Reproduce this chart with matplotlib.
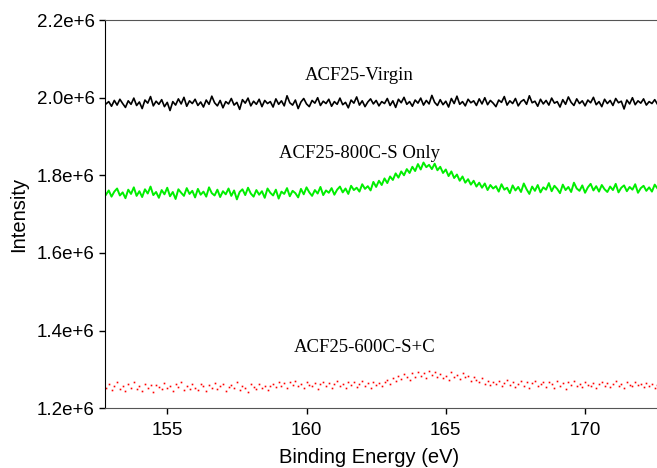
import matplotlib
matplotlib.use("Agg")
import matplotlib.pyplot as plt
import numpy as np

# binding energy grid (eV)
energy = np.round(np.arange(152.8, 172.65, 0.1), 1)

# intensities in thousands of counts
virgin = [1984, 1990, 1978, 1993, 1981, 1996, 1985, 1975, 1992, 1983, 1999, 1980, 1989, 1972, 1994, 1986, 2003, 1979, 1991, 1983,
          1995, 1977, 1988, 1967, 1990, 1981, 1997, 1984, 2001, 1978, 1992, 1985, 1996, 1980, 1989, 1976, 1994, 1983, 2004, 1987,
          1979, 1993, 1974, 1990, 1984, 1998, 1981, 1988, 1970, 1995, 1986, 1999, 1979, 1991, 1983, 1996, 1977, 1993, 1985, 1990,
          1976, 1997, 1983, 1992, 1979, 2005, 1987, 1981, 1994, 1972, 1989, 1998, 1984, 1977, 1993, 1986, 2000, 1980, 1991, 1985,
          1996, 1978, 1990, 1983, 1999, 1982, 1988, 1974, 1994, 1986, 2002, 1981, 1992, 1977, 1989, 1997, 1984, 1993, 1979, 1990,
          1985, 1998, 1980, 1992, 1975, 1996, 1987, 2001, 1983, 1990, 1978, 1994, 1986, 1999, 1981, 1993, 1984, 2006, 1988, 1980,
          1995, 1982, 1991, 1976, 1998, 1985, 2004, 1983, 1990, 1979, 1996, 1987, 1992, 1980, 1997, 1984, 2000, 1982, 1993, 1986,
          1977, 1994, 1988, 2003, 1981, 1992, 1985, 1998, 1979, 1990, 1995, 1983, 2005, 1987, 1991, 1978, 1996, 1984, 1993, 1981,
          1999, 1986, 1990, 1976, 1995, 1983, 2002, 1988, 1980, 1997, 1985, 1992, 1979, 1994, 1987, 2001, 1982, 1990, 1977, 1996,
          1985, 1993, 1980, 1998, 1987, 1991, 1971, 1994, 1984, 2000, 1982, 1992, 1986, 1997, 1981, 1990, 1985, 1995, 1983]

s_only = [1750, 1761, 1745, 1758, 1766, 1748, 1756, 1741, 1763, 1752, 1769, 1747, 1759, 1744, 1764, 1753, 1771, 1749, 1757, 1742,
          1762, 1751, 1768, 1746, 1757, 1739, 1764, 1755, 1747, 1767, 1752, 1760, 1743, 1765, 1750, 1758, 1745, 1769, 1754, 1748,
          1763, 1744, 1759, 1751, 1766, 1747, 1761, 1738, 1757, 1764, 1749, 1768, 1753, 1745, 1762, 1750, 1759, 1742, 1766, 1755,
          1748, 1763, 1740, 1758, 1752, 1767, 1746, 1760, 1754, 1743, 1765, 1751, 1769, 1756, 1747, 1762, 1753, 1770, 1749, 1761,
          1755, 1767, 1750, 1763, 1771, 1756, 1766, 1752, 1773, 1762, 1768, 1758, 1777, 1765, 1772, 1761, 1783, 1770, 1786, 1775,
          1792, 1780, 1797, 1788, 1805, 1794, 1810, 1800, 1816, 1806, 1822, 1811, 1829, 1815, 1833, 1821, 1827, 1816, 1830, 1813,
          1822, 1806, 1815, 1798, 1810, 1793, 1802, 1786, 1797, 1781, 1790, 1776, 1786, 1771, 1781, 1768, 1779, 1762, 1775, 1766,
          1772, 1758, 1777, 1763, 1768, 1754, 1774, 1761, 1770, 1757, 1779, 1764, 1752, 1771, 1760, 1775, 1756, 1769, 1763, 1780,
          1759, 1773, 1765, 1754, 1776, 1762, 1770, 1757, 1781, 1766, 1760, 1774, 1755, 1769, 1778, 1761, 1772, 1758, 1775, 1764,
          1757, 1771, 1762, 1778, 1756, 1768, 1774, 1759, 1770, 1763, 1777, 1755, 1767, 1773, 1760, 1769, 1758, 1776, 1766]

s_plus_c = [1252, 1262, 1247, 1258, 1266, 1250, 1256, 1244, 1261, 1253, 1268, 1249, 1257, 1245, 1263, 1251, 1259, 1242, 1260, 1254,
            1248, 1264, 1251, 1257, 1243, 1262, 1255, 1267, 1246, 1258, 1250, 1263, 1253, 1247, 1261, 1256, 1244, 1259, 1252, 1265,
            1249, 1257, 1262, 1245, 1254, 1260, 1251, 1266, 1247, 1258, 1253, 1241, 1261, 1255, 1249, 1263, 1252, 1258, 1246, 1256,
            1262, 1255, 1268, 1258, 1264, 1251, 1266, 1259, 1270, 1256, 1263, 1252, 1267, 1260, 1257, 1265, 1250, 1262, 1268, 1258,
            1264, 1253, 1261, 1269, 1256, 1263, 1251, 1266, 1259, 1268, 1255, 1262, 1270, 1257, 1264, 1252, 1267, 1260, 1265, 1258,
            1266, 1273, 1262, 1278, 1270, 1283, 1275, 1287, 1279, 1272, 1290, 1281, 1294, 1284, 1291, 1278, 1295, 1286, 1292, 1280,
            1289, 1277, 1284, 1272, 1293, 1281, 1286, 1274, 1290, 1279, 1283, 1270, 1280, 1273, 1266, 1277, 1262, 1270, 1259, 1267,
            1262, 1270, 1256, 1265, 1272, 1259, 1267, 1254, 1263, 1269, 1258, 1266, 1252, 1264, 1271, 1257, 1263, 1268, 1255, 1266,
            1261, 1253, 1269, 1258, 1264, 1250, 1266, 1259, 1270, 1256, 1262, 1254, 1267, 1260, 1257, 1265, 1252, 1263, 1268, 1258,
            1264, 1255, 1261, 1269, 1257, 1263, 1251, 1266, 1260, 1256, 1268, 1259, 1263, 1254, 1265, 1258, 1262, 1253, 1260]

yticks = [1.2e6, 1.4e6, 1.6e6, 1.8e6, 2.0e6, 2.2e6]
ytick_labels = ["1.2e+6", "1.4e+6", "1.6e+6", "1.8e+6", "2.0e+6", "2.2e+6"]
xticks = [155, 160, 165, 170]

plt.rcParams['font.family'] = ['Liberation Sans', 'DejaVu Sans']

fig = plt.figure(figsize=(6.57, 4.68), dpi=100)
ax = fig.add_axes([0.16, 0.128, 0.845, 0.829])

ax.plot(energy, np.array(virgin) * 1e3, color='black', lw=1.2)
ax.plot(energy, np.array(s_only) * 1e3, color='#00ee00', lw=1.4)
ax.plot(energy, np.array(s_plus_c) * 1e3, ls='none', marker='s', ms=1.2, mew=0, color='red')

serif = ['Liberation Serif', 'DejaVu Serif']
ax.text(161.9, 2.058e6, "ACF25-Virgin", ha='center', va='center', fontsize=13.5, family=serif)
ax.text(161.9, 1.857e6, "ACF25-800C-S Only", ha='center', va='center', fontsize=13.5, family=serif)
ax.text(162.1, 1.355e6, "ACF25-600C-S+C", ha='center', va='center', fontsize=13.5, family=serif)

ax.set_xlim(152.77, 172.7)
ax.set_ylim(1.2e6, 2.2e6)
ax.set_xticks(xticks)
ax.set_yticks(yticks)
ax.set_yticklabels(ytick_labels)
ax.tick_params(direction='out', length=4, width=1, labelsize=13.5, colors='black')
ax.tick_params(axis='x', pad=6)
ax.set_xlabel("Binding Energy (eV)", fontsize=14.5, va='bottom')
ax.xaxis.set_label_coords(0.476, -0.152)
ax.set_ylabel("Intensity", fontsize=14.5, va='center')
ax.yaxis.set_label_coords(-0.155, 0.5)

ax.spines['right'].set_visible(False)
ax.spines['top'].set_color('#555555')
ax.spines['bottom'].set_color('#555555')
ax.spines['left'].set_color('black')

fig.savefig("out.png", dpi=100)
